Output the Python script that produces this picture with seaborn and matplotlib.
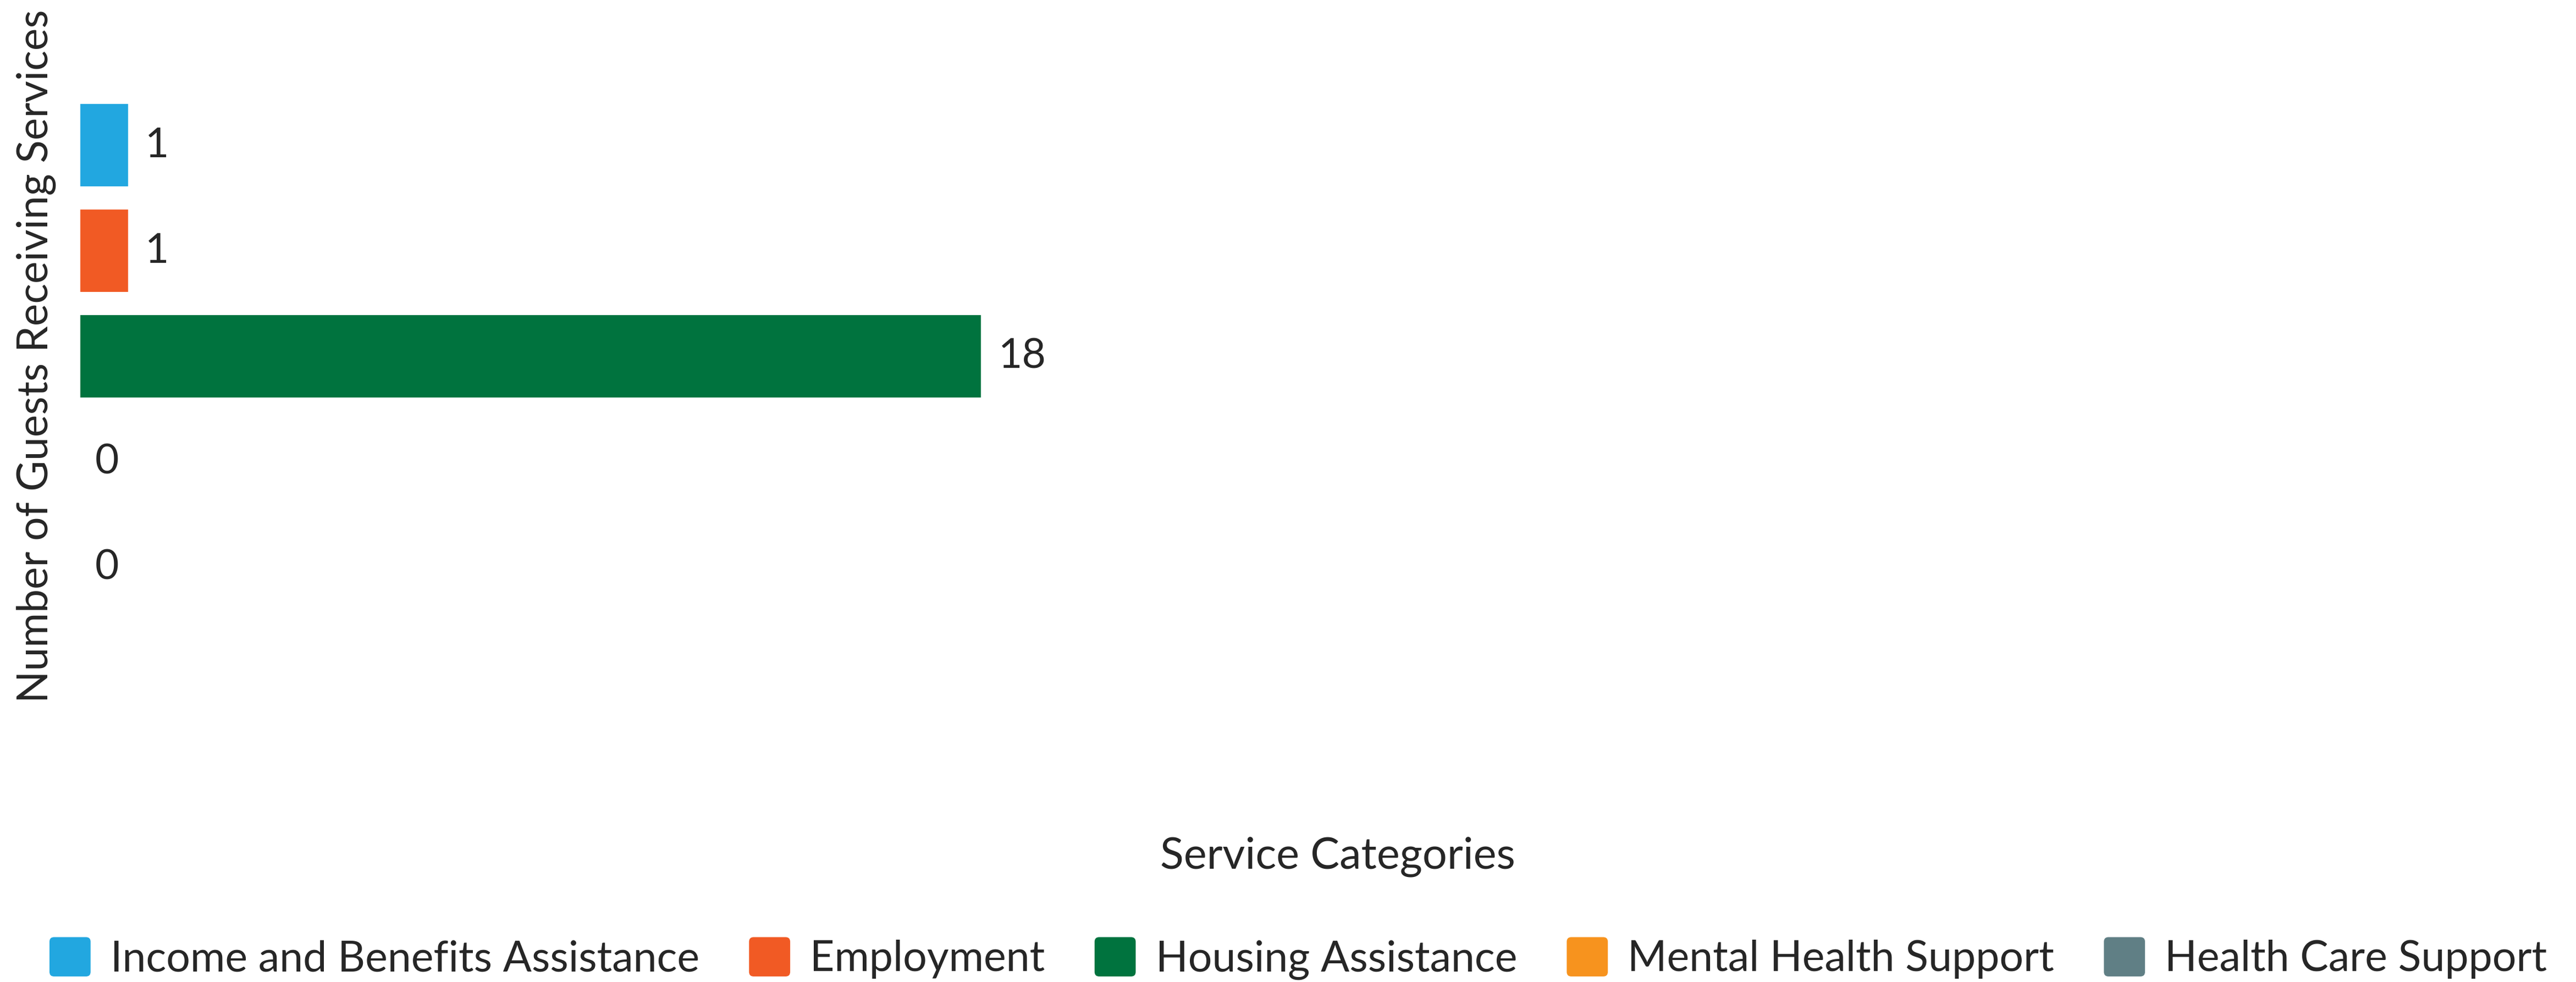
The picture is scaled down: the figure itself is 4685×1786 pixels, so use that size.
import matplotlib
matplotlib.use('Agg')
import matplotlib.pyplot as plt
import matplotlib.patches as mpatches
from matplotlib.legend_handler import HandlerPatch
import seaborn as sns
import pandas as pd

categories = ['Income and Benefits Assistance', 'Employment', 'Housing Assistance',
              'Mental Health Support', 'Health Care Support']
guests = [1, 1, 18, 0, 0]
colors = ['#22A7E0', '#F15A24', '#00733E', '#F7931E', '#607F85']

df = pd.DataFrame({'category': categories, 'guests': guests})


class RoundHandler(HandlerPatch):
    # legend squares with slightly rounded corners
    def create_artists(self, legend, orig_handle, xdescent, ydescent, width, height,
                       fontsize, trans):
        p = mpatches.FancyBboxPatch((-xdescent, -ydescent), width, height,
                                    boxstyle='round,pad=0,rounding_size=2',
                                    fc=orig_handle.get_facecolor(), ec='none',
                                    transform=trans)
        return [p]


sns.set_theme(style='white')
plt.rcParams['font.family'] = ['Lato', 'DejaVu Sans']

fig = plt.figure(figsize=(4685 / 300, 1786 / 300), dpi=300)
ax = fig.add_axes([0.0307, 0.3684, 0.9544, 0.5375])

sns.barplot(data=df, x='guests', y='category', hue='category', palette=colors,
            orient='h', width=0.8, saturation=1, legend=False, ax=ax)

for c in ax.containers:
    ax.bar_label(c, fmt='%g', padding=7, fontsize=18)

ax.set_xlim(0, 49)
ax.set_ylim(4.5, -0.5)
ax.set_xticks([])
ax.set_yticks([])
sns.despine(ax=ax, left=True, bottom=True)

ax.set_xlabel('Service Categories', fontsize=19)
ax.set_ylabel('Number of Guests Receiving Services', fontsize=18.4)
ax.xaxis.set_label_coords(0.512, -0.41)
ax.yaxis.set_label_coords(-0.0094, 0.5)

handles = [mpatches.Patch(color=col, label=cat) for cat, col in zip(categories, colors)]
fig.legend(handles=handles, loc='center', bbox_to_anchor=(0.504, 0.024), ncol=5,
           frameon=False, fontsize=18.5, handlelength=0.97, handleheight=1.05,
           handletextpad=0.47, columnspacing=1.17,
           handler_map={mpatches.Patch: RoundHandler()})

fig.savefig('out.png', dpi=300)
